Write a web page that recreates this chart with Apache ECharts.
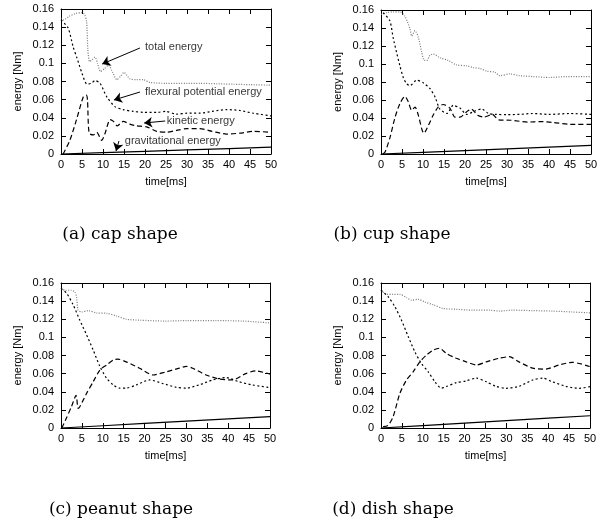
<!DOCTYPE html>
<html>
<head>
<meta charset="utf-8">
<script src="https://cdn.jsdelivr.net/npm/echarts@6/dist/echarts.min.js"></script>
<style>html,body{margin:0;padding:0;background:#fff}#c{width:607px;height:523px}</style>
</head>
<body>
<div id="c"></div>
<script>
// ---- data (time [ms], energy [Nm]) ----
var xTicks = [0, 5, 10, 15, 20, 25, 30, 35, 40, 45, 50];
var yTicks = [0, 0.02, 0.04, 0.06, 0.08, 0.1, 0.12, 0.14, 0.16];
var captions = ['(a) cap shape', '(b) cup shape', '(c) peanut shape', '(d) dish shape'];

// (a) cap shape
var capTotal = [[0,0.150],[0.6,0.148],[2,0.152],[3.5,0.155],[5,0.156],[5.6,0.154],[6.1,0.146],[6.4,0.115],[6.8,0.102],[7.4,0.104],[8.1,0.107],[8.7,0.100],[9.4,0.091],[10.3,0.094],[11.3,0.098],[12.3,0.090],[13.3,0.082],[14.2,0.086],[15,0.090],[16.4,0.083],[18,0.082],[19.6,0.082],[21.2,0.079],[25,0.078],[30,0.078],[33,0.078],[37,0.0775],[41,0.077],[45,0.0765],[50,0.076]];
var capFlex = [[0,0.148],[1.7,0.139],[2.9,0.118],[3.8,0.106],[5,0.089],[6.2,0.077],[7.2,0.078],[8.1,0.081],[9.3,0.078],[10.9,0.063],[12.9,0.052],[14.8,0.049],[17.2,0.047],[19.6,0.046],[22.8,0.046],[25,0.047],[27.5,0.044],[30,0.045],[33,0.045],[36,0.047],[39.4,0.049],[42.6,0.048],[45.8,0.045],[50,0.042]];
var capKin = [[0.5,0],[2.1,0.015],[3.7,0.038],[5.3,0.063],[6,0.065],[6.3,0.060],[6.7,0.023],[7.7,0.021],[8.5,0.024],[9.7,0.015],[10.5,0.023],[11.7,0.038],[12.5,0.036],[13.4,0.031],[14.8,0.036],[16.4,0.033],[18,0.031],[20.4,0.030],[22.8,0.025],[25.2,0.024],[27.5,0.026],[30,0.028],[33,0.028],[36,0.025],[39.4,0.022],[42.6,0.023],[45.8,0.025],[50,0.024]];
var capGrav = [[0,0],[10,0.0015],[20,0.003],[30,0.0045],[40,0.006],[50,0.0075]];

// (b) cup shape
var cupTotal = [[0,0.155],[1.3,0.157],[3,0.158],[4.5,0.158],[5.7,0.153],[6.9,0.139],[7.3,0.131],[8.1,0.137],[8.9,0.1295],[9.7,0.113],[10.3,0.104],[10.9,0.104],[11.7,0.110],[12.5,0.111],[14,0.107],[16,0.104],[18,0.099],[20.4,0.098],[22,0.096],[23.6,0.095],[25.2,0.092],[27.1,0.091],[28.3,0.087],[30.7,0.089],[33,0.087],[36.3,0.086],[40.2,0.085],[44.2,0.086],[50,0.086]];
var cupFlex = [[0.5,0.157],[2.1,0.148],[2.9,0.129],[3.7,0.113],[4.5,0.098],[5.3,0.085],[6.1,0.078],[6.9,0.076],[8.5,0.082],[10.1,0.079],[11.7,0.0725],[12.9,0.063],[14,0.050],[15.7,0.045],[17.2,0.054],[18.8,0.051],[20.4,0.044],[22.5,0.048],[24,0.050],[25.6,0.045],[27.5,0.044],[30,0.0438],[33,0.044],[36,0.045],[40,0.044],[45,0.045],[50,0.044]];
var cupKin = [[0.5,0],[1,0.0025],[2.1,0.0176],[3.3,0.040],[4.5,0.056],[5.7,0.064],[6.5,0.058],[7.3,0.0486],[8.1,0.052],[8.9,0.043],[9.7,0.028],[10.2,0.023],[11.3,0.032],[12.4,0.043],[13.6,0.052],[14.8,0.055],[16.4,0.051],[17.6,0.041],[18.8,0.041],[20.4,0.047],[21.5,0.050],[23,0.043],[24.5,0.041],[26.5,0.044],[28,0.038],[31,0.0375],[35,0.0355],[38,0.036],[41,0.035],[45,0.033],[50,0.033]];
var cupGrav = [[0,0],[10,0.0019],[20,0.0038],[30,0.0058],[40,0.0077],[50,0.0096]];

// (c) peanut shape
var peaTotal = [[0,0.154],[1,0.152],[2.5,0.152],[3.3,0.150],[3.7,0.145],[4.1,0.130],[4.9,0.128],[6.5,0.1295],[8.5,0.127],[10.9,0.1266],[13.3,0.1236],[15.6,0.120],[18.8,0.119],[25,0.118],[30,0.1185],[37,0.1185],[43.4,0.118],[50,0.116]];
var peaFlex = [[0,0.154],[1.3,0.149],[2.9,0.136],[4.5,0.119],[6.1,0.103],[7.7,0.086],[9.3,0.068],[10.9,0.055],[12.5,0.0475],[14,0.044],[15.6,0.044],[18,0.0475],[21.2,0.053],[24.4,0.049],[27.5,0.045],[30,0.044],[33,0.0475],[36.3,0.053],[39.4,0.0556],[42.6,0.051],[45.8,0.0475],[50,0.0445]];
var peaKin = [[0.2,0],[1.3,0.011],[2.5,0.0235],[3.6,0.036],[4.1,0.0217],[4.5,0.0235],[6.1,0.038],[7.7,0.051],[9.3,0.064],[10.9,0.0695],[12.5,0.075],[13.6,0.076],[15.6,0.073],[18.8,0.066],[22,0.0585],[25.2,0.062],[28.3,0.066],[30,0.068],[31.5,0.066],[34.7,0.0585],[37.9,0.054],[41,0.053],[44.2,0.060],[46.6,0.063],[50,0.0595]];
var peaGrav = [[0,0],[10,0.0025],[20,0.005],[30,0.0075],[40,0.010],[50,0.0125]];

// (d) dish shape
var disTotal = [[0,0.152],[1.3,0.1475],[2.9,0.1475],[4.5,0.1475],[6.1,0.144],[7.3,0.141],[8.9,0.142],[10.5,0.139],[12.5,0.136],[14.8,0.132],[18,0.131],[22,0.130],[26,0.130],[28.3,0.129],[31.5,0.130],[36.3,0.1295],[41,0.129],[45.8,0.128],[50,0.127]];
var disFlex = [[0,0.152],[1.7,0.145],[3.3,0.134],[4.9,0.119],[6.5,0.101],[8.1,0.084],[9.7,0.071],[11.3,0.062],[12.9,0.051],[14.4,0.044],[15.6,0.0456],[18,0.050],[20.4,0.052],[22.8,0.055],[25.2,0.051],[27.5,0.046],[29.9,0.0438],[33,0.046],[36.3,0.053],[38.7,0.055],[41,0.051],[44.2,0.046],[47.4,0.0438],[50,0.0456]];
var disKin = [[0.5,0.0015],[1.7,0.003],[2.9,0.0125],[4.5,0.038],[6.1,0.053],[7.7,0.062],[9.3,0.073],[10.9,0.0806],[12.5,0.086],[14,0.088],[15.6,0.0824],[18,0.077],[20.4,0.073],[22.8,0.0695],[25.2,0.073],[28.3,0.077],[30.7,0.0787],[33,0.073],[36.3,0.066],[39.4,0.065],[42.6,0.0695],[45.8,0.0725],[50,0.0677]];
var disGrav = [[0,0],[10,0.0027],[20,0.0054],[30,0.0081],[40,0.0108],[50,0.0135]];

// annotations in panel (a): label [t, E, text], arrow [fromT, fromE, toT, toE]
var noteLabels = [[20,0.118,'total energy'],[20,0.0684,'flexural potential energy'],[25.2,0.0364,'kinetic energy'],[15.2,0.0143,'gravitational energy']];
var noteArrows = [[18.8,0.117,9.8,0.0993],[18.8,0.0684,12.6,0.0596],[24.8,0.0364,19.8,0.0342],[13.8,0.0143,13.1,0.0033]];

var panels = [
  {total: capTotal, flex: capFlex, kin: capKin, grav: capGrav},
  {total: cupTotal, flex: cupFlex, kin: cupKin, grav: cupGrav},
  {total: peaTotal, flex: peaFlex, kin: peaKin, grav: peaGrav},
  {total: disTotal, flex: disFlex, kin: disKin, grav: disGrav}
];

var grids = [
  {left: 61, top: 9, width: 210, height: 145},
  {left: 381, top: 10, width: 210, height: 144},
  {left: 61, top: 283, width: 209, height: 145},
  {left: 381, top: 283, width: 209, height: 145}
];
var capPos = [[120,235],[392,235],[121,510],[393,510]];

var FONT = 'Liberation Sans';
var xAxes = [], yAxes = [], series = [], graphics = [];
grids.forEach(function (g, i) {
  var base = {
    type: 'value', min: 0, gridIndex: i,
    axisLine: {show: true, onZero: false, lineStyle: {color: '#000', width: 1}},
    axisTick: {show: true, inside: true, length: 5, lineStyle: {color: '#000'}},
    splitLine: {show: false}
  };
  xAxes.push(Object.assign({}, base, {
    max: 50, interval: 5, position: 'bottom',
    name: 'time[ms]', nameLocation: 'middle', nameGap: 22,
    nameTextStyle: {fontFamily: FONT, fontSize: 11, color: '#000'},
    axisLabel: {fontFamily: FONT, fontSize: 11, color: '#000', margin: 5}
  }));
  xAxes.push(Object.assign({}, base, {max: 50, interval: 5, position: 'top', axisLabel: {show: false}}));
  yAxes.push(Object.assign({}, base, {
    max: 0.16, interval: 0.02, position: 'left',
    name: 'energy [Nm]', nameLocation: 'middle', nameGap: 38,
    nameTextStyle: {fontFamily: FONT, fontSize: 11, color: '#000'},
    axisLabel: {fontFamily: FONT, fontSize: 11, color: '#000', margin: 7,
      formatter: function (v) { return String(Math.round(v * 100) / 100); }}
  }));
  yAxes.push(Object.assign({}, base, {max: 0.16, interval: 0.02, position: 'right', axisLabel: {show: false}}));

  var p = panels[i];
  var common = {type: 'line', xAxisIndex: 2 * i, yAxisIndex: 2 * i, showSymbol: false, symbol: 'none', smooth: 0.25, animation: false, z: 3};
  series.push(Object.assign({}, common, {name: 'total', data: p.total, lineStyle: {color: '#7a7a7a', width: 1.2, type: [1, 1.5]}}));
  series.push(Object.assign({}, common, {name: 'flex', data: p.flex, lineStyle: {color: '#000', width: 1.2, type: [2, 2.5]}}));
  series.push(Object.assign({}, common, {name: 'kin', data: p.kin, lineStyle: {color: '#000', width: 1.2, type: [5, 3]}}));
  series.push(Object.assign({}, common, {name: 'grav', data: p.grav, smooth: false, lineStyle: {color: '#000', width: 1.2}}));

  graphics.push({
    type: 'text', x: capPos[i][0], y: capPos[i][1],
    style: {text: captions[i], font: '17px "DejaVu Serif"', fill: '#000', align: 'center', verticalAlign: 'middle'}
  });
});

// annotation series on panel (a)
series.push({
  type: 'scatter', xAxisIndex: 0, yAxisIndex: 0, symbolSize: 0, animation: false, silent: true, z: 5,
  data: noteLabels.map(function (n) { return {value: [n[0], n[1]], name: n[2]}; }),
  label: {show: true, position: 'right', distance: 0, formatter: '{b}', fontFamily: FONT, fontSize: 11, color: '#000'},
  markLine: {
    silent: true, animation: false, symbol: ['none', 'arrow'], symbolSize: 8,
    label: {show: false},
    lineStyle: {color: '#000', width: 1, type: 'solid', opacity: 1},
    emphasis: {disabled: true},
    data: noteArrows.map(function (a) { return [{coord: [a[0], a[1]]}, {coord: [a[2], a[3]]}]; })
  }
});

var chart = echarts.init(document.getElementById('c'), null, {renderer: 'canvas'});
chart.setOption({
  animation: false,
  backgroundColor: '#fff',
  grid: grids,
  xAxis: xAxes,
  yAxis: yAxes,
  series: series,
  graphic: graphics
});
</script>
</body>
</html>
